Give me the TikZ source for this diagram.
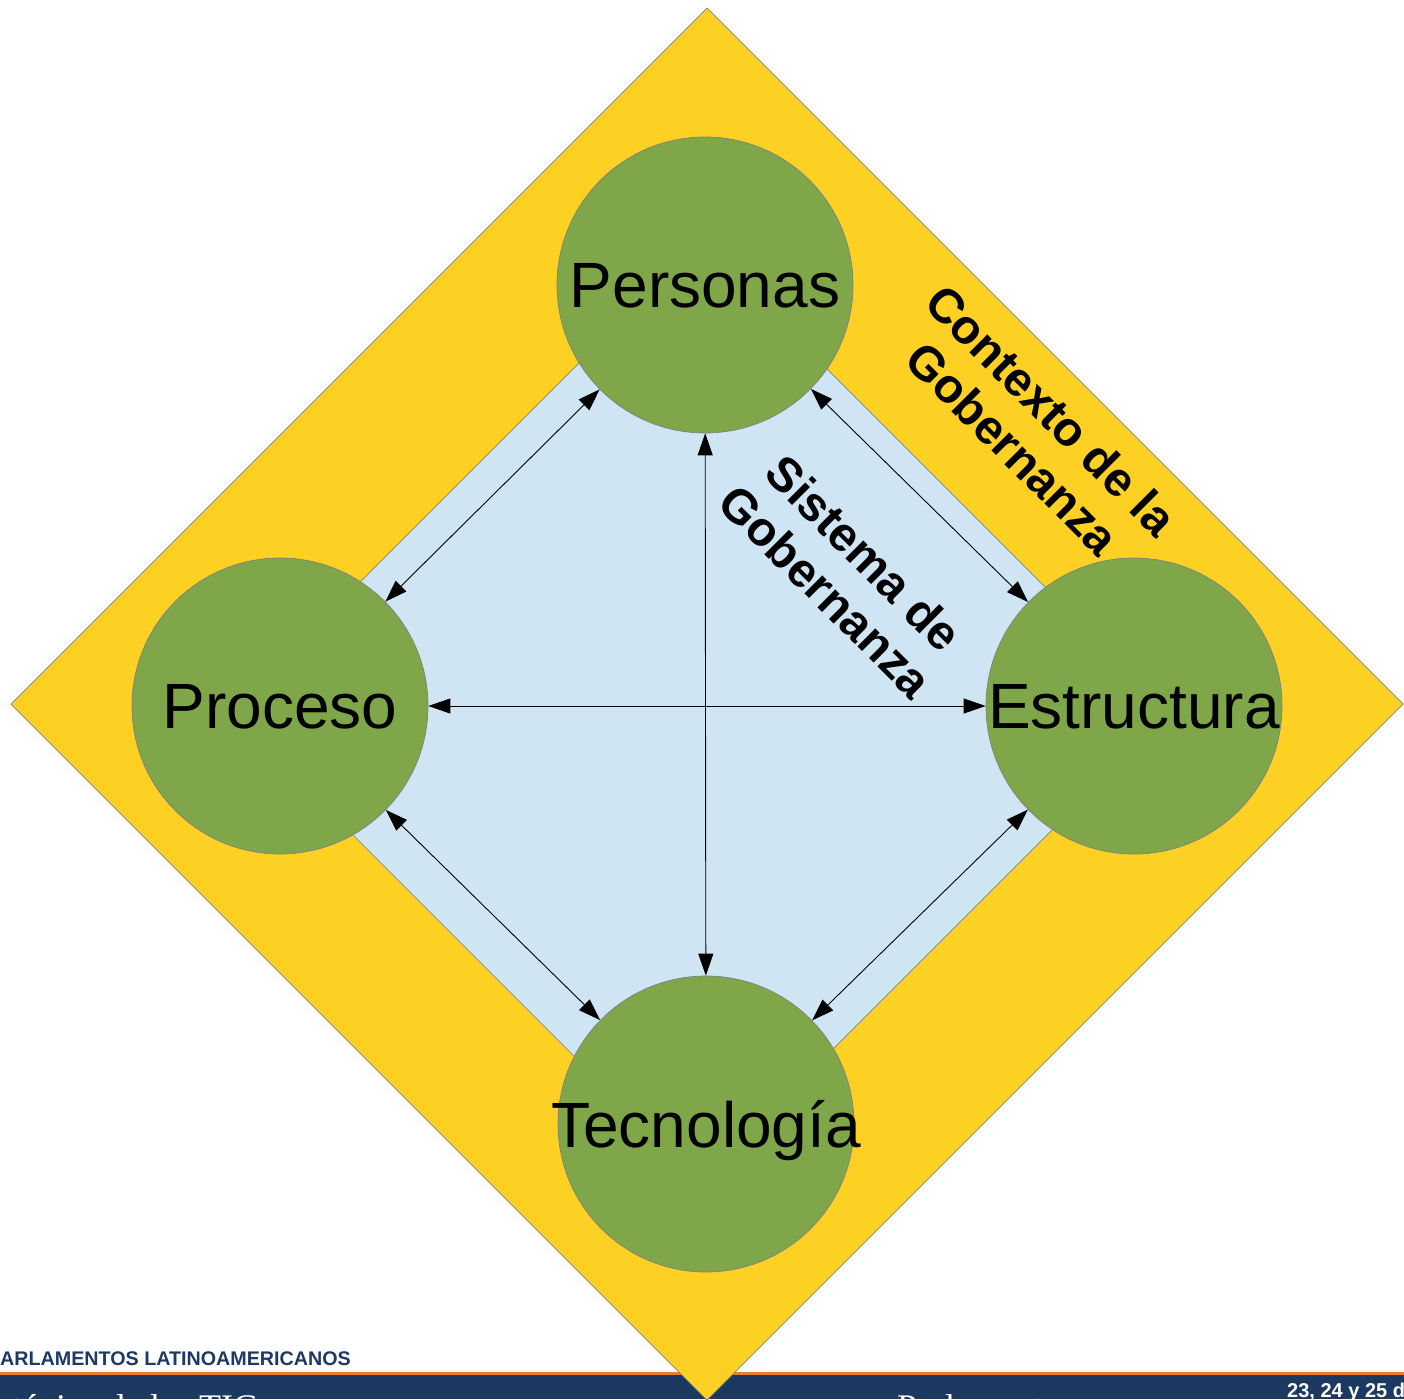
\documentclass[tikz,border=0pt]{standalone}
\usepackage{fontspec}
\setmainfont{Liberation Sans}
\newfontfamily\serifband{Liberation Serif}
\usetikzlibrary{arrows.meta}
\definecolor{ygold}{RGB}{253,209,35}
\definecolor{lblue}{RGB}{207,229,243}
\definecolor{ogreen}{RGB}{127,166,72}
\definecolor{bandblue}{RGB}{28,57,97}
\definecolor{bandorange}{RGB}{232,128,44}
\definecolor{titleblue}{RGB}{31,56,100}
\begin{document}
\begin{tikzpicture}[x=1pt,y=-1pt,
  circ/.style={circle, fill=ogreen, draw=gray, line width=0.7pt, minimum size=296pt, inner sep=0pt},
  lbl/.style={font=\fontsize{64}{72}\selectfont, text depth=0pt, inner sep=0pt},
  conn/.style={{Triangle[length=22pt,width=15pt]}-{Triangle[length=22pt,width=15pt]}, line width=0.9pt, black},
  diag/.style={font=\bfseries\fontsize{48}{54}\selectfont, align=center, rotate=-45, inner sep=0pt},
  zone/.style={draw=gray, line width=0.7pt}]
\clip (0,0) rectangle (1404,1399);
\fill[white] (0,0) rectangle (1404,1399);
% bottom band
\fill[bandblue] (0,1375) rectangle (1404,1399);
\fill[bandorange] (0,1371.5) rectangle (1404,1375);
\node[anchor=base west, inner sep=0pt, text=titleblue, font=\bfseries\fontsize{19.7}{22}\selectfont] (brand) at (0,1365) {ARLAMENTOS LATINOAMERICANOS};
\node[anchor=base west, inner sep=0pt, text=white, font=\serifband\fontsize{36}{40}\selectfont] (sub1) at (12,1419) {tégica de las TIC};
\node[anchor=base west, inner sep=0pt, text=white, font=\serifband\fontsize{36}{40}\selectfont] (sub2) at (897,1419) {Parlamentos};
\node[anchor=base west, inner sep=0pt, text=white, font=\bfseries\fontsize{20}{22}\selectfont] (date) at (1287,1397) {23, 24 y 25 de};
% diamonds
\filldraw[zone, fill=ygold] (707,8) -- (1403,704) -- (707,1400) -- (11,704) -- cycle;
\filldraw[zone, fill=lblue] (700,242) -- (1170,712) -- (700,1182) -- (230,712) -- cycle;
% circles
\node[circ] (per) at (705,285) {};
\node[circ] (pro) at (280,706) {};
\node[circ] (est) at (1134,706) {};
\node[circ] (tec) at (706,1124) {};
% connectors
\draw[conn] (per) -- (pro);
\draw[conn] (per) -- (est);
\draw[conn] (per) -- (tec);
\draw[conn] (pro) -- (est);
\draw[conn] (pro) -- (tec);
\draw[conn] (est) -- (tec);
% labels
\node[lbl] (lper) at (per) {Personas};
\node[lbl] (lpro) at (pro) {Proceso};
\node[lbl] (lest) at (est) {Estructura};
\node[lbl] (ltec) at (tec) {Tecnología};
\node[diag] (ctx) at (1032,429) {Contexto de la\\Gobernanza};
\node[diag] (sis) at (845,572) {Sistema de\\Gobernanza};
\end{tikzpicture}
\end{document}
